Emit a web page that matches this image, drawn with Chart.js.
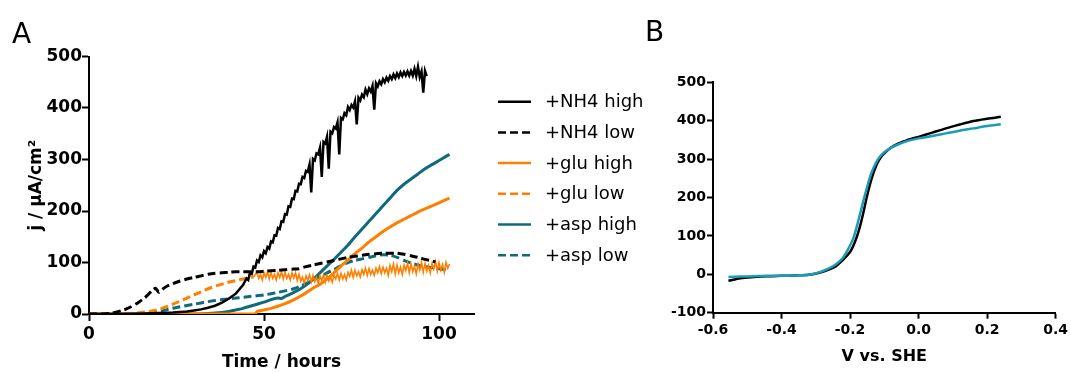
<!DOCTYPE html>
<html>
<head>
<meta charset="utf-8">
<script src="https://cdn.jsdelivr.net/npm/chart.js@4.4.1/dist/chart.umd.min.js"></script>
<style>
body { margin: 0; background: #fff; width: 1071px; height: 373px; overflow: hidden; position: relative; }
.panel { position: absolute; top: 0; }
.tag { position: absolute; font-family: "DejaVu Sans"; font-size: 28px; line-height: 28px; color: #000; }
</style>
</head>
<body>
<canvas id="chartA" class="panel" style="left:0" width="655" height="373"></canvas>
<canvas id="chartB" class="panel" style="left:655px" width="416" height="373"></canvas>
<div class="tag" style="left:12px;top:20px">A</div>
<div class="tag" style="left:645px;top:18px">B</div>
<script>
// panel A: current density vs time
const xTicksA = [0, 50, 100]
const yTicksA = [0, 100, 200, 300, 400, 500]

const nh4HighX = [0, 4, 8, 12, 16, 20, 24, 28, 30, 32, 34, 36, 38, 40, 42, 44,
  45, 45.5, 46, 46.5, 47, 47.5, 48, 48.5, 49, 49.5, 50, 50.5, 51, 51.5, 52, 52.5,
  53, 53.5, 54, 54.5, 55, 55.5, 56, 56.5, 57, 57.5, 58, 58.5, 59, 59.5, 60, 60.5,
  61, 61.5, 62, 62.5, 63, 63.5, 64, 64.5, 65, 65.5, 66, 66.5, 67, 67.5, 68, 68.5,
  69, 69.5, 70, 70.5, 71, 71.5, 72, 72.5, 73, 73.5, 74, 74.5, 75, 75.5, 76, 76.5,
  77, 77.5, 78, 78.5, 79, 79.5, 80, 80.5, 81, 81.5, 82, 82.5, 83, 83.5, 84, 84.5,
  85, 85.5, 86, 86.5, 87, 87.5, 88, 88.5, 89, 89.5, 90, 90.5, 91, 91.5, 92, 92.5,
  93, 93.5, 94, 94.5, 95, 95.5, 96, 96.5]
const nh4HighY = [0, 0, 0, 0.5, 1, 2, 3, 5, 7, 9, 12, 16, 22, 30, 40, 56,
  69, 66, 80, 78, 92, 90, 104, 101, 114, 110, 122, 118, 130, 127, 141, 139,
  153, 152, 167, 165, 180, 179, 194, 193, 209, 208, 224, 223, 239, 238, 253, 252,
  266, 264, 278, 276, 290, 236, 301, 298, 312, 310, 323, 266, 334, 331, 344, 282,
  354, 351, 363, 360, 372, 310, 381, 378, 390, 386, 402, 396, 406, 401, 413, 368,
  420, 415, 426, 421, 436, 427, 438, 432, 443, 397, 448, 442, 452, 446, 456, 450,
  459, 453, 462, 456, 465, 458, 467, 460, 469, 462, 470, 463, 471, 463, 472, 463,
  476, 462, 480, 460, 471, 430, 472, 462]

const nh4LowX = [0, 4, 6, 8, 10, 12, 14, 16, 18, 19, 20, 21, 22,
  24, 26, 28, 30, 32, 34, 36, 38, 40, 42, 44, 46, 48, 50, 52, 54, 56, 58, 60, 62,
  64, 66, 68, 70, 72, 74, 76, 78, 80, 82, 84, 86, 88, 90, 92, 94, 96, 98, 99]
const nh4LowY = [0, 0, 1, 4, 8, 14, 22, 32, 45, 50, 42, 48, 53,
  59, 64, 68, 71, 74, 77, 79, 80, 81, 82, 82, 82, 82, 83, 84, 85, 86, 87, 88, 92,
  95, 98, 101, 104, 107, 110, 112, 114, 116, 117, 118, 118, 118, 116, 113, 110, 106, 103, 101]

const gluHighX = [0, 47.5, 48, 50, 52, 54, 56, 58, 60, 62, 64, 66, 68, 70, 72, 74, 76,
  78, 80, 82, 84, 86, 88, 90, 92, 94, 96, 98, 100, 102, 103]
const gluHighY = [0, 0, 5, 8, 11, 15, 20, 26, 33, 41, 50, 58, 68, 80, 93, 105, 117,
  128, 140, 150, 160, 169, 177, 184, 191, 198, 204, 210, 216, 222, 225]

const gluLowX = [0, 10, 12, 14, 16, 18, 20, 22, 24, 26, 28, 30, 32, 34, 36, 38, 40, 42, 44, 46, 47,
  48, 48.5, 49, 49.5, 50, 50.5, 51, 51.5, 52, 52.5, 53, 53.5, 54, 54.5, 55, 55.5,
  56, 56.5, 57, 57.5, 58, 58.5, 59, 59.5, 60, 60.5, 61, 61.5, 62, 62.5, 63, 63.5,
  64, 64.5, 65, 65.5, 66, 66.5, 67, 67.5, 68, 68.5, 69, 69.5, 70, 70.5, 71, 71.5,
  72, 72.5, 73, 73.5, 74, 74.5, 75, 75.5, 76, 76.5, 77, 77.5, 78, 78.5, 79, 79.5,
  80, 80.5, 81, 81.5, 82, 82.5, 83, 83.5, 84, 84.5, 85, 85.5, 86, 86.5, 87, 87.5,
  88, 88.5, 89, 89.5, 90, 90.5, 91, 91.5, 92, 92.5, 93, 93.5, 94, 94.5, 95, 95.5,
  96, 96.5, 97, 97.5, 98, 98.5, 99, 99.5, 100, 100.5, 101, 101.5, 102, 102.5, 103]
const gluLowY = [0, 0, 1, 2, 4, 6, 9, 14, 19, 25, 31, 37, 43, 49, 54, 58, 62, 65, 68, 71, 72,
  81, 69, 77, 66, 80, 71, 82, 68, 81, 69, 77, 66, 80, 71, 82, 68,
  81, 69, 77, 66, 80, 70, 80, 65, 77, 64, 72, 60, 74, 65, 76, 62,
  75, 63, 71, 60, 74, 65, 76, 62, 75, 64, 72, 62, 76, 68, 79, 66,
  79, 68, 77, 66, 81, 73, 85, 71, 85, 74, 82, 72, 86, 77, 89, 75,
  88, 77, 85, 75, 89, 80, 92, 78, 91, 80, 89, 75, 94, 82, 97, 78,
  95, 80, 91, 77, 95, 84, 99, 80, 97, 82, 93, 78, 97, 85, 100, 81,
  98, 83, 94, 80, 98, 87, 102, 83, 100, 85, 96, 81, 100, 89, 97]

const aspHighX = [0, 30, 34, 38, 40, 42, 44, 46, 48, 50, 52, 54, 55, 56, 58, 60, 62, 64, 66,
  68, 70, 72, 74, 76, 78, 80, 82, 84, 86, 88, 90, 92, 94, 96, 98, 100, 102, 103]
const aspHighY = [0, 0, 1, 3, 5, 8, 11, 15, 19, 23, 28, 31, 30, 34, 40, 47, 56, 67, 80,
  93, 106, 120, 134, 150, 165, 180, 195, 210, 225, 240, 252, 262, 272, 282, 290, 298, 306, 310]

const aspLowX = [0, 10, 14, 18, 22, 26, 30, 34, 38, 42, 46, 50, 54, 58, 60, 62, 64, 66, 68,
  70, 72, 74, 76, 78, 80, 82, 84, 86, 88, 90, 92, 94, 96, 98, 100, 102, 103]
const aspLowY = [0, 0, 1, 3, 8, 14, 19, 24, 28, 31, 34, 37, 42, 48, 53, 59, 66, 72, 80,
  86, 94, 100, 104, 107, 110, 113, 115, 114, 110, 104, 99, 95, 92, 90, 88, 86, 85]

// panel B: voltammetry
const xTicksB = [-0.6, -0.4, -0.2, 0, 0.2, 0.4]
const vShe = [-0.555, -0.52, -0.48, -0.44, -0.40, -0.36, -0.32, -0.29, -0.26, -0.24, -0.22, -0.20,
  -0.19, -0.18, -0.17, -0.16, -0.15, -0.14, -0.13, -0.12, -0.11, -0.10, -0.08, -0.06, -0.04, -0.02,
  0.0, 0.04, 0.08, 0.12, 0.16, 0.20, 0.24]
const cvBlack = [-17, -10, -7, -5, -4, -3, -1, 4, 13, 22, 38, 58,
  75, 98, 128, 165, 205, 240, 268, 290, 305, 315, 330, 340, 347, 353,
  358, 369, 380, 390, 399, 405, 410]
const cvTeal = [-7, -6, -5, -4, -4, -3, -1, 5, 16, 27, 44, 75,
  95, 125, 160, 195, 228, 258, 280, 297, 309, 318, 330, 338, 345, 350,
  354, 360, 367, 374, 380, 386, 391]

const ORANGE = '#ff7f00'
const TEAL_A = '#0f6b7b'
const TEAL_B = '#1b9cb6'
const DASH = [8, 4]

function pts(xs, ys) {
  return xs.map((x, i) => ({ x: x, y: ys[i] }))
}

function series(label, xs, ys, color, dash) {
  return {
    label: label,
    data: pts(xs, ys),
    borderColor: color,
    borderWidth: 3,
    borderDash: dash,
    pointRadius: 0,
    tension: 0.2,
    fill: false
  }
}

const tickFont = { family: 'DejaVu Sans', size: 17, weight: 'bold' }
const titleFont = { family: 'DejaVu Sans', size: 17, weight: 'bold' }

const sideLegend = {
  id: 'sideLegend',
  afterDraw(chart) {
    const ctx = chart.ctx
    chart.data.datasets.forEach((ds, i) => {
      const y = 101.7 + i * 30.7
      ctx.save()
      ctx.strokeStyle = ds.borderColor
      ctx.lineWidth = 2.5
      ctx.setLineDash(ds.borderDash || [])
      ctx.beginPath()
      ctx.moveTo(498, y)
      ctx.lineTo(531, y)
      ctx.stroke()
      ctx.setLineDash([])
      ctx.fillStyle = '#000'
      ctx.font = '18px "DejaVu Sans"'
      ctx.textBaseline = 'middle'
      ctx.fillText(ds.label, 545, y + 1)
      ctx.restore()
    })
  }
}

const nh4High = series('+NH4 high', nh4HighX, nh4HighY, '#000', [])
nh4High.tension = 0
nh4High.borderWidth = 2.5

// glu low: dashed rise, then a noisy solid trace
const gluLow = series('+glu low', gluLowX, gluLowY, ORANGE, DASH)
gluLow.tension = 0
gluLow.segment = {
  borderDash: c => c.p0.parsed.x >= 47 ? [] : DASH,
  borderWidth: c => c.p0.parsed.x >= 47 ? 1.6 : 3
}

new Chart(document.getElementById('chartA'), {
  type: 'line',
  data: {
    datasets: [
      nh4High,
      series('+NH4 low', nh4LowX, nh4LowY, '#000', DASH),
      series('+glu high', gluHighX, gluHighY, ORANGE, []),
      gluLow,
      series('+asp high', aspHighX, aspHighY, TEAL_A, []),
      series('+asp low', aspLowX, aspLowY, TEAL_A, DASH)
    ]
  },
  options: {
    responsive: false,
    animation: false,
    layout: { padding: { left: 22, top: 56.5, right: 181, bottom: 0 } },
    plugins: { legend: { display: false }, tooltip: { enabled: false } },
    scales: {
      x: {
        type: 'linear', min: 0, max: 110,
        afterBuildTicks: s => { s.ticks = xTicksA.map(v => ({ value: v })) },
        afterFit: s => { s.height = 59 },
        grid: { drawOnChartArea: false, tickLength: 7, tickColor: '#000', tickWidth: 2 },
        border: { color: '#000', width: 2 },
        ticks: { color: '#000', font: tickFont, padding: 3, maxRotation: 0 },
        title: { display: true, text: 'Time / hours', color: '#000', font: titleFont, padding: { top: 0, bottom: 0 } }
      },
      y: {
        type: 'linear', min: 0, max: 500,
        afterBuildTicks: s => { s.ticks = yTicksA.map(v => ({ value: v })) },
        afterFit: s => { s.width = 67 },
        grid: { drawOnChartArea: false, tickLength: 7, tickColor: '#000', tickWidth: 2 },
        border: { color: '#000', width: 2 },
        ticks: { color: '#000', font: tickFont, padding: 0 },
        title: { display: true, text: 'j / µA/cm²', color: '#000', font: titleFont, padding: { top: 4, bottom: 0 } }
      }
    }
  },
  plugins: [sideLegend]
})

const tickFontB = { family: 'DejaVu Sans', size: 14, weight: 'bold' }

new Chart(document.getElementById('chartB'), {
  type: 'line',
  data: {
    datasets: [
      { label: 'black', data: pts(vShe, cvBlack), borderColor: '#000', borderWidth: 2.5, pointRadius: 0, tension: 0.3, order: 2 },
      { label: 'teal', data: pts(vShe, cvTeal), borderColor: TEAL_B, borderWidth: 2.5, pointRadius: 0, tension: 0.3, order: 1 }
    ]
  },
  options: {
    responsive: false,
    animation: false,
    layout: { padding: { left: 0, top: 82.3, right: 13.3, bottom: 0 } },
    plugins: { legend: { display: false }, tooltip: { enabled: false } },
    scales: {
      x: {
        type: 'linear', min: -0.6, max: 0.4,
        afterBuildTicks: s => { s.ticks = xTicksB.map(v => ({ value: v })) },
        afterFit: s => { s.height = 60.3 },
        grid: { drawOnChartArea: false, tickLength: 6, tickColor: '#000', tickWidth: 2 },
        border: { color: '#000', width: 2 },
        ticks: { color: '#000', font: tickFontB, padding: 3, maxRotation: 0, callback: v => Number(v).toFixed(1) },
        title: { display: true, text: 'V vs. SHE', color: '#000', font: { family: 'DejaVu Sans', size: 16, weight: 'bold' }, padding: { top: 0, bottom: 7 } }
      },
      y: {
        type: 'linear', min: -100, max: 500,
        ticks: { stepSize: 100, color: '#000', font: tickFontB, padding: 1 },
        afterFit: s => { s.width = 58 },
        grid: { drawOnChartArea: false, tickLength: 6, tickColor: '#000', tickWidth: 2 },
        border: { color: '#000', width: 2 }
      }
    }
  }
})
</script>
</body>
</html>
